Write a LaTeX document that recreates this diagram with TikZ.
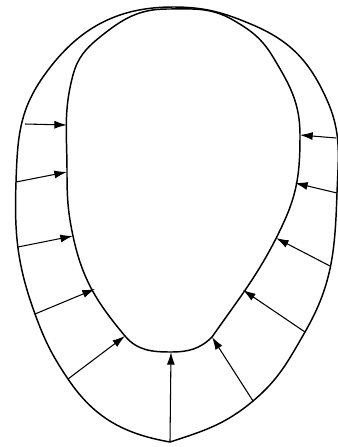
\documentclass[tikz,border=0pt]{standalone}
\usepackage{tikz}
\usetikzlibrary{arrows.meta}

\begin{document}
\begin{tikzpicture}[x=0.75pt,y=-0.75pt,
  wall/.style={line width=1.1pt,line join=round},
  push/.style={line width=0.8pt,-{Latex[length=9.5pt,width=6pt]}}]
\useasboundingbox (0,0) rectangle (338,447);

% outer contour
\draw[wall] (173,7) to[out=180,in=55] (43,77)
  to[out=-125,in=88] (16,182)
  to[out=-92,in=110] (35,314)
  to[out=-70,in=124] (68,379)
  to[out=-56,in=170] (170,442)
  to[out=18,in=-140] (253,401)
  to[out=40,in=-120] (305,332)
  to[out=60,in=-92] (337,193)
  to[out=88,in=-66] (327,100)
  to[out=114,in=-23] (253,25)
  to[out=157,in=0] (173,7);

% inner contour
\draw[wall] (167,9) to[out=180,in=39] (100,37)
  to[out=-141,in=75] (73,75)
  to[out=-105,in=90] (67,172)
  to[out=-90,in=102] (73,236)
  to[out=-78,in=130] (125,336)
  to[out=-50,in=180] (171,352)
  to[out=0,in=-135] (212,337)
  to[out=55,in=-115] (283,224)
  to[out=65,in=-90] (300,135)
  to[out=90,in=-59] (273,57)
  to[out=121,in=-30] (233,20)
  to[out=150,in=0] (167,9);

\coordinate (o1) at (25,124);  \coordinate (i1) at (67,125);
\coordinate (o2) at (16,182);  \coordinate (i2) at (67,172);
\coordinate (o3) at (18,247);  \coordinate (i3) at (73,236);
\coordinate (o4) at (35,314);  \coordinate (i4) at (95,289);
\coordinate (o5) at (68,379);  \coordinate (i5) at (125,336);
\coordinate (o6) at (170,442); \coordinate (i6) at (171,352);
\coordinate (o7) at (253,401); \coordinate (i7) at (212,337);
\coordinate (o8) at (305,332); \coordinate (i8) at (243,290);
\coordinate (o9) at (330,266); \coordinate (i9) at (276,238);
\coordinate (o10) at (337,193); \coordinate (i10) at (295,183);
\coordinate (o11) at (336,138); \coordinate (i11) at (300,135);

\draw[push] (o1) -- (i1);
\draw[push] (o2) -- (i2);
\draw[push] (o3) -- (i3);
\draw[push] (o4) -- (i4);
\draw[push] (o5) -- (i5);
\draw[push] (o6) -- (i6);
\draw[push] (o7) -- (i7);
\draw[push] (o8) -- (i8);
\draw[push] (o9) -- (i9);
\draw[push] (o10) -- (i10);
\draw[push] (o11) -- (i11);
\end{tikzpicture}
\end{document}
